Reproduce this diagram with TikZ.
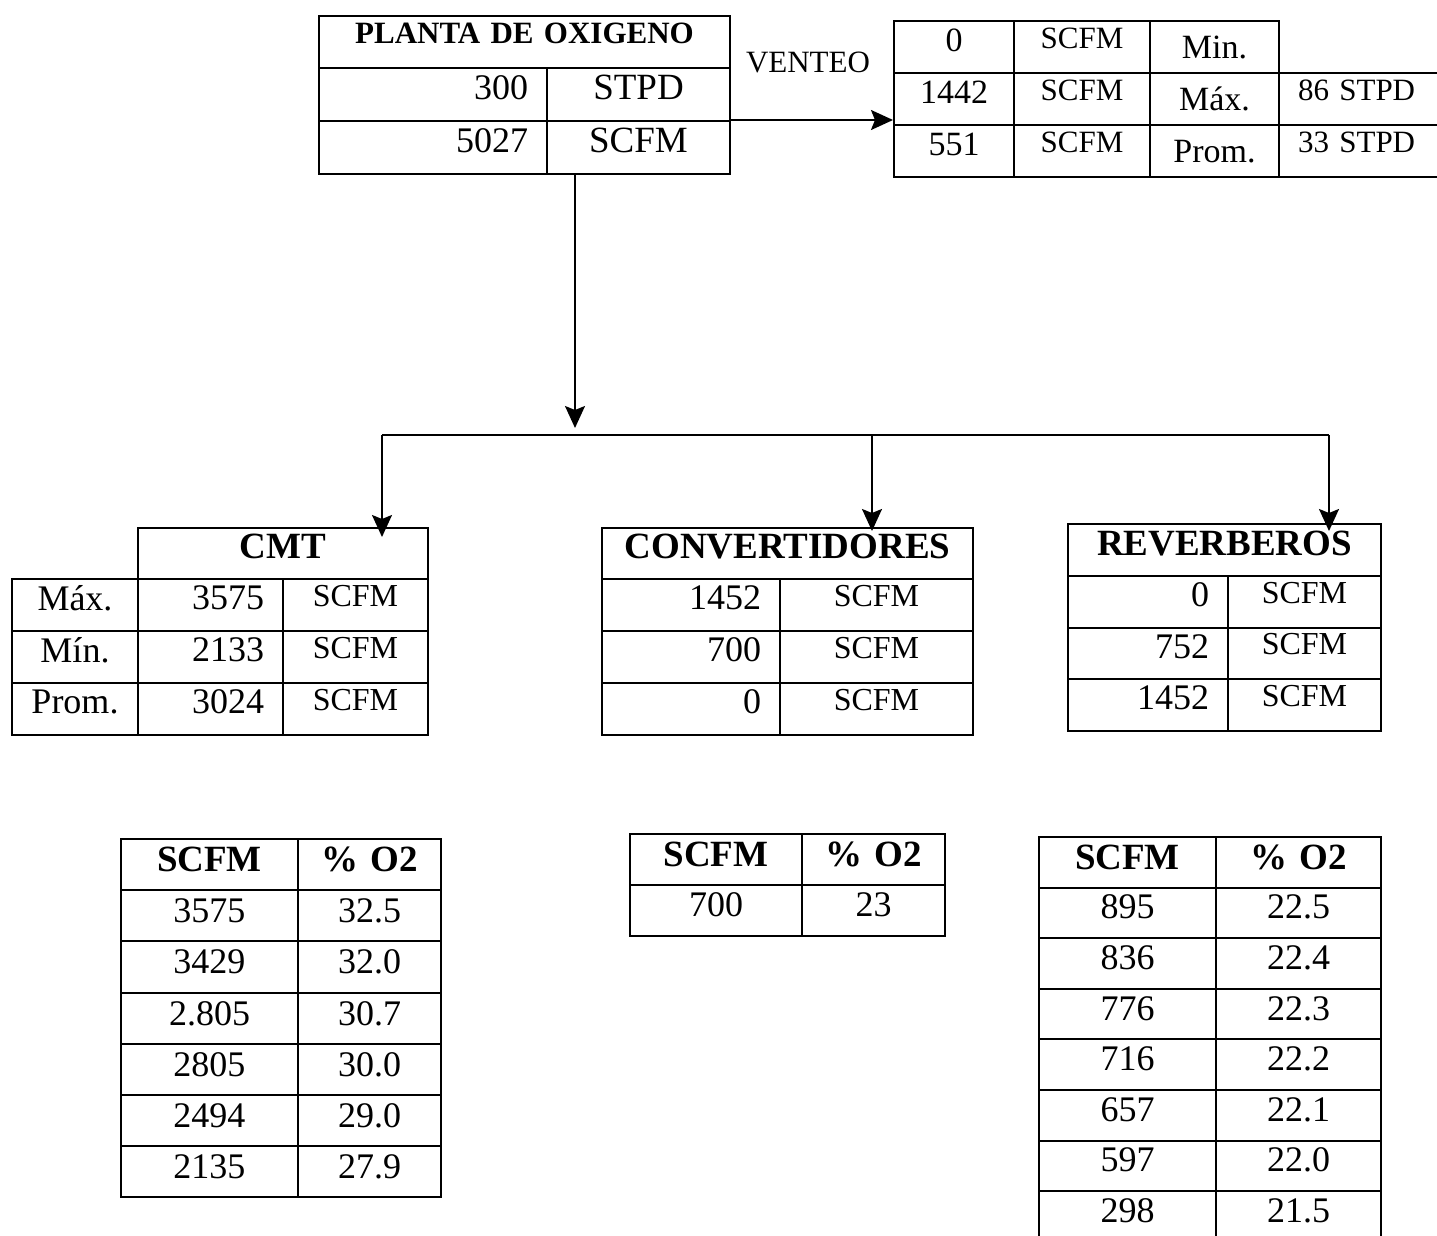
\documentclass[tikz,border=0pt]{standalone}
\usepackage{fontspec}
\setmainfont{Liberation Serif}
\usetikzlibrary{arrows.meta,positioning}

% one table cell: [options]{name}{left}{top}{width}{height}{text}, sizes in pixels
\newcommand{\tcell}[7][]{%
  \pgfmathsetlengthmacro{\cellw}{#5*0.5pt}%
  \pgfmathsetlengthmacro{\cellh}{#6*0.5pt}%
  \pgfmathsetlengthmacro{\cellt}{(#5-38)*0.5pt}%
  \node[cell, minimum width=\cellw, minimum height=\cellh, text width=\cellt, #1] (#2) at (#3,#4) {#7};%
}

\begin{document}
\begin{tikzpicture}[x=0.5pt, y=-0.5pt,
        cell/.style={draw, line width=1pt, anchor=north west, inner xsep=0pt, inner ysep=0pt, align=center, text depth=5pt, font=\fontsize{18}{20}\selectfont},
        numcell/.style={align=right},
        head/.style={font=\fontsize{18.5}{20}\selectfont\bfseries},
        unitcell/.style={font=\fontsize{16}{18}\selectfont, text depth=9pt},
        ventcell/.style={font=\fontsize{17}{19}\selectfont, text depth=7pt},
        ventlabel/.style={font=\fontsize{17}{19}\selectfont, text depth=0pt},
        ventunit/.style={font=\fontsize{15.5}{17}\selectfont, text depth=9pt},
        arrow/.style={-{Stealth[length=11pt, width=10pt, inset=2pt]}, line width=1pt}
    ]
    \useasboundingbox (0,0) rectangle (1437,1236);

    % oxygen plant
    \tcell[font=\fontsize{15.5}{17}\selectfont\bfseries, text depth=9pt]{planta-h}{318}{15}{411}{52}{PLANTA DE OXIGENO}
    \tcell[numcell, text depth=7pt]{planta-n1}{318}{67}{228}{53}{300}
    \tcell[font=\fontsize{18.5}{20}\selectfont, text depth=7pt]{planta-u1}{546}{67}{183}{53}{STPD}
    \tcell[numcell, text depth=7pt]{planta-n2}{318}{120}{228}{53}{5027}
    \tcell[font=\fontsize{18.5}{20}\selectfont, text depth=7pt]{planta-u2}{546}{120}{183}{53}{SCFM}

    % venting
    \node[font=\fontsize{15.5}{17}\selectfont] (venteo) at (808,62) {VENTEO};
    \tcell[ventcell]{vent-q1}{893}{20}{120}{52}{0}
    \tcell[ventunit]{vent-u1}{1013}{20}{136}{52}{SCFM}
    \tcell[ventlabel]{vent-l1}{1149}{20}{129}{52}{Min.}
    \tcell[ventcell]{vent-q2}{893}{72}{120}{52}{1442}
    \tcell[ventunit]{vent-u2}{1013}{72}{136}{52}{SCFM}
    \tcell[ventlabel]{vent-l2}{1149}{72}{129}{52}{Máx.}
    \tcell[ventunit, align=left]{vent-s2}{1278}{72}{170}{52}{86 STPD}
    \tcell[ventcell]{vent-q3}{893}{124}{120}{52}{551}
    \tcell[ventunit]{vent-u3}{1013}{124}{136}{52}{SCFM}
    \tcell[ventlabel]{vent-l3}{1149}{124}{129}{52}{Prom.}
    \tcell[ventunit, align=left]{vent-s3}{1278}{124}{170}{52}{33 STPD}

    % CMT
    \tcell[head, text depth=7pt]{cmt-h}{137}{527}{290}{51}{CMT}
    \foreach \lb/\val [count=\i] in {Máx./3575, Mín./2133, Prom./3024} {
        \pgfmathsetmacro{\ry}{578+52*(\i-1)}
        \tcell[text depth=7pt]{cmt-l\i}{11}{\ry}{126}{52}{\lb}
        \tcell[numcell, text depth=7pt]{cmt-n\i}{137}{\ry}{145}{52}{\val}
        \tcell[unitcell]{cmt-u\i}{282}{\ry}{145}{52}{SCFM}
    }

    % converters
    \tcell[head, text depth=7pt]{conv-h}{601}{527}{371}{51}{CONVERTIDORES}
    \foreach \val [count=\i] in {1452, 700, 0} {
        \pgfmathsetmacro{\ry}{578+52*(\i-1)}
        \tcell[numcell, text depth=7pt]{conv-n\i}{601}{\ry}{178}{52}{\val}
        \tcell[unitcell]{conv-u\i}{779}{\ry}{193}{52}{SCFM}
    }

    % reverberatory furnaces
    \tcell[head, text depth=7pt]{rev-h}{1067}{523}{313}{52}{REVERBEROS}
    \foreach \val [count=\i] in {0, 752, 1452} {
        \pgfmathsetmacro{\ry}{575+51.5*(\i-1)}
        \tcell[numcell, text depth=7pt]{rev-n\i}{1067}{\ry}{160}{51.5}{\val}
        \tcell[unitcell]{rev-u\i}{1227}{\ry}{153}{51.5}{SCFM}
    }

    % oxygen enrichment tables
    \tcell[head]{cmtq-s0}{120}{838}{177}{51}{SCFM}
    \tcell[head]{cmtq-p0}{297}{838}{143}{51}{\% O2}
    \foreach \sc/\po [count=\i] in {3575/32.5, 3429/32.0, 2.805/30.7, 2805/30.0, 2494/29.0, 2135/27.9} {
        \pgfmathsetmacro{\ry}{838+51.2*\i}
        \tcell{cmtq-s\i}{120}{\ry}{177}{51.2}{\sc}
        \tcell{cmtq-p\i}{297}{\ry}{143}{51.2}{\po}
    }

    \tcell[head]{convq-s0}{629}{833}{172}{51}{SCFM}
    \tcell[head]{convq-p0}{801}{833}{143}{51}{\% O2}
    \tcell[text depth=6pt]{convq-s1}{629}{884}{172}{51}{700}
    \tcell[text depth=6pt]{convq-p1}{801}{884}{143}{51}{23}

    \tcell[head]{revq-s0}{1038}{836}{177}{51}{SCFM}
    \tcell[head]{revq-p0}{1215}{836}{165}{51}{\% O2}
    \foreach \sc/\po [count=\i] in {895/22.5, 836/22.4, 776/22.3, 716/22.2, 657/22.1, 597/22.0, 298/21.5} {
        \pgfmathsetmacro{\ry}{836+50.6*\i}
        \tcell[text depth=6pt]{revq-s\i}{1038}{\ry}{177}{50.6}{\sc}
        \tcell[text depth=6pt]{revq-p\i}{1215}{\ry}{165}{50.6}{\po}
    }

    % flows
    \draw[arrow] (planta-u2.north east) -- (planta-u2.north east -| vent-q3.west);
    \coordinate (split) at (575,428);
    \draw[arrow] (split |- planta-u2.south) -- (split);
    \coordinate (busL) at (382,435);
    \coordinate (busM) at (872,435);
    \coordinate (busR) at (1329,435);
    \draw[line width=1pt] (busL) -- (busR);
    \draw[arrow, shorten >=-5pt] (busL) -- (busL |- cmt-h.north);
    \draw[arrow, shorten >=-2pt] (busM) -- (busM |- conv-h.north);
    \draw[arrow, shorten >=-4pt] (busR) -- (busR |- rev-h.north);
\end{tikzpicture}
\end{document}
